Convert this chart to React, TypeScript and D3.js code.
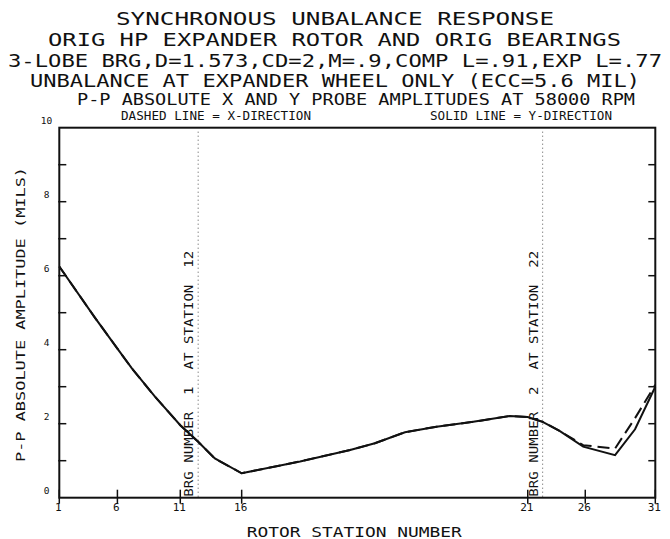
import React from "react";
import * as d3 from "d3";

// Title block lines
const titleLines = [
  "SYNCHRONOUS UNBALANCE RESPONSE",
  "ORIG HP EXPANDER ROTOR AND ORIG BEARINGS",
  "3-LOBE BRG,D=1.573,CD=2,M=.9,COMP L=.91,EXP L=.77",
  "UNBALANCE AT EXPANDER WHEEL ONLY (ECC=5.6 MIL)",
  "P-P ABSOLUTE X AND Y PROBE AMPLITUDES AT 58000 RPM",
];
const legendLeft = "DASHED LINE = X-DIRECTION";
const legendRight = "SOLID LINE = Y-DIRECTION";

// Station tick labels and their axial positions along the rotor (in)
const stationTicks = [1, 6, 11, 16, 21, 26, 31];
const stationPos = [0, 1.95, 4.06, 6.12, 15.72, 17.65, 20.0];

// Bearings
const bearingNumbers = [1, 2];
const bearingStations = [12, 22];
const bearingPos = [4.66, 16.22];

// Amplitude y-axis
const yTicksMajor = [0, 2, 4, 6, 8, 10];
const yTicksMinor = [1, 2, 3, 4, 5, 6, 7, 8, 9];

// Response curves (axial position, p-p amplitude in mils)
const curvePos = [
  0.0, 1.2, 1.95, 2.43, 3.21, 4.06, 4.66, 5.22, 6.12, 8.08, 9.76, 10.59,
  11.6, 12.66, 13.89, 15.12, 15.72, 16.22, 16.8, 17.58, 18.65, 19.32, 20.0,
];
const yAmp = [
  6.25, 4.86, 4.03, 3.5, 2.73, 1.96, 1.51, 1.06, 0.66, 0.98, 1.29, 1.47,
  1.77, 1.92, 2.05, 2.21, 2.18, 2.05, 1.8, 1.38, 1.15, 1.85, 3.0,
];
const xAmp = [
  6.25, 4.86, 4.03, 3.5, 2.73, 1.96, 1.51, 1.06, 0.66, 0.98, 1.29, 1.47,
  1.77, 1.92, 2.05, 2.21, 2.18, 2.05, 1.8, 1.42, 1.33, 2.15, 3.05,
];

const W = 670;
const H = 539;
const FONT = "'DejaVu Sans Mono', 'Liberation Mono', monospace";

const x = d3.scaleLinear().domain([0, 20]).range([59.3, 655.3]);
const y = d3.scaleLinear().domain([0, 10]).range([497.7, 127.7]);

// title line layout: [start x, end x, baseline, font size]
const titleLayout: [number, number, number, number][] = [
  [116, 554, 24.5, 18],
  [48, 621, 46, 17],
  [8, 662, 67, 17],
  [30, 640, 86.5, 17],
  [77, 635, 104.5, 15.5],
];

export default function App() {
  const line = d3
    .line<number>()
    .x((_, i) => x(curvePos[i]))
    .curve(d3.curveLinear);
  const solidPath = line.y((d) => y(d))(yAmp) || "";
  const dashedPath = line.y((d) => y(d))(xAmp) || "";

  const x0 = x.range()[0];
  const x1 = x.range()[1];
  const yb = y(0);
  const yt = y(10);

  return (
    <svg
      width={W}
      height={H}
      style={{ position: "absolute", left: 0, top: 0, background: "#fff" }}
      fontFamily={FONT}
    >
      {titleLines.map((t, i) => {
        const [a, b, base, fs] = titleLayout[i];
        return (
          <text
            key={i}
            x={a}
            y={base}
            fontSize={fs}
            textLength={b - a}
            lengthAdjust="spacingAndGlyphs"
            fill="#111"
          >
            {t}
          </text>
        );
      })}
      <text x={121} y={120} fontSize={11.5} textLength={190} lengthAdjust="spacingAndGlyphs" fill="#111">
        {legendLeft}
      </text>
      <text x={430} y={120} fontSize={11.5} textLength={182} lengthAdjust="spacingAndGlyphs" fill="#111">
        {legendRight}
      </text>

      {/* bearing locations */}
      {bearingNumbers.map((n, i) => {
        const bx = x(bearingPos[i]);
        const label = `BRG NUMBER  ${n}  AT STATION  ${bearingStations[i]}`;
        return (
          <g key={n}>
            <line
              x1={bx}
              x2={bx}
              y1={yt + 4}
              y2={yb}
              stroke="#555"
              strokeWidth={1}
              strokeDasharray="1,3"
            />
            <text
              transform={`translate(${bx - 5},${yb - 1}) rotate(-90)`}
              fontSize={11.5}
              textLength={246}
              lengthAdjust="spacingAndGlyphs"
              style={{ whiteSpace: "pre" }}
              fill="#111"
            >
              {label}
            </text>
          </g>
        );
      })}

      {/* frame */}
      <rect x={x0} y={yt} width={x1 - x0} height={yb - yt} fill="none" stroke="#111" strokeWidth={2} />

      {/* y ticks on both sides */}
      {yTicksMinor.map((v) => (
        <g key={v}>
          <line x1={x0 - 1} x2={x0 + 7} y1={y(v)} y2={y(v)} stroke="#111" strokeWidth={1.5} />
          <line x1={x1 - 7} x2={x1} y1={y(v)} y2={y(v)} stroke="#111" strokeWidth={1.5} />
        </g>
      ))}
      {yTicksMajor.map((v) => (
        <text key={v} x={46.5} y={y(v) - 3.5} fontSize={9.5} textAnchor="middle" fill="#111">
          {v}
        </text>
      ))}

      {/* x ticks */}
      {stationTicks.map((s, i) => (
        <g key={s}>
          <line x1={x(stationPos[i])} x2={x(stationPos[i])} y1={yb - 8} y2={yb + 6} stroke="#111" strokeWidth={1.5} />
          <text x={x(stationPos[i]) - 1} y={510.7} fontSize={11} textAnchor="middle" fill="#111">
            {s}
          </text>
        </g>
      ))}

      {/* curves */}
      <path d={dashedPath} fill="none" stroke="#111" strokeWidth={2} strokeDasharray="12,6" />
      <path d={solidPath} fill="none" stroke="#111" strokeWidth={2} />

      {/* axis titles */}
      <text x={246.7} y={536.5} fontSize={13.5} textLength={215} lengthAdjust="spacingAndGlyphs" fill="#111">
        ROTOR STATION NUMBER
      </text>
      <text
        transform={`translate(25,462) rotate(-90)`}
        fontSize={12.5}
        textLength={295}
        lengthAdjust="spacingAndGlyphs"
        fill="#111"
      >
        P-P ABSOLUTE AMPLITUDE (MILS)
      </text>
    </svg>
  );
}
